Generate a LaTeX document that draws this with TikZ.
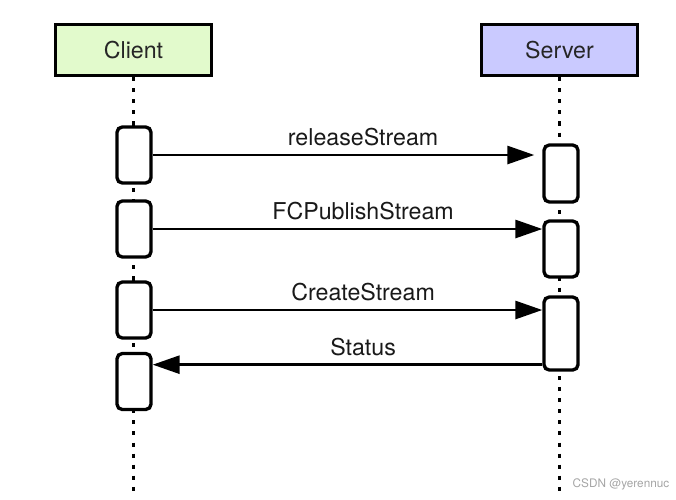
\documentclass[tikz,border=0pt]{standalone}
\usepackage{fontspec}
\setmainfont{TeX Gyre Heros}
\usetikzlibrary{arrows.meta,positioning,calc}
\definecolor{clientgreen}{RGB}{226,250,204}
\definecolor{serverblue}{RGB}{202,202,255}
\definecolor{markgray}{RGB}{165,165,165}

\begin{document}
\begin{tikzpicture}[
    actor/.style={draw, line width=1.9pt, minimum width=3.12cm, minimum height=1.02cm, inner sep=0pt, font=\fontsize{13.2}{15}\selectfont, text=black!85, text depth=0pt},
    lifeline/.style={line width=1.8pt, dash pattern=on 2.3pt off 4pt},
    act/.style={draw, fill=white, line width=1.9pt, rounded corners=3pt, minimum width=0.68cm, inner sep=0pt},
    msg/.style={line width=1.6pt, -{Triangle[length=0.54cm, width=0.36cm]}},
    lbl/.style={font=\fontsize{13.2}{15}\selectfont, text=black!90, above=1pt}
  ]
  \useasboundingbox (0,0) rectangle (13.52,-9.98);

  \node[actor, fill=clientgreen] (client) at (2.67, -1.0) {Client};
  \node[actor, fill=serverblue] (server) at (11.19, -1.0) {Server};

  \coordinate (cend) at (2.67, -9.9);
  \coordinate (send) at (11.19, -9.9);
  \draw[lifeline] (client.south) -- (cend);
  \draw[lifeline] (server.south) -- (send);

  \node[act, minimum height=1.12cm] (c1) at (2.68, -3.10) {};
  \node[act, minimum height=1.12cm] (c2) at (2.68, -4.58) {};
  \node[act, minimum height=1.12cm] (c3) at (2.68, -6.20) {};
  \node[act, minimum height=1.12cm] (c4) at (2.68, -7.63) {};

  \node[act, minimum height=1.14cm] (s1) at (11.22, -3.47) {};
  \node[act, minimum height=1.12cm] (s2) at (11.22, -4.98) {};
  \node[act, minimum height=1.46cm] (s3) at (11.22, -6.67) {};

  \draw[msg, shorten >=0.16cm] (c1.east) -- (c1.east -| s1.west) node[lbl, pos=0.54] {releaseStream};
  \draw[msg] (c2.east) -- (c2.east -| s2.west) node[lbl, pos=0.54] {FCPublishStream};
  \draw[msg] (c3.east) -- (c3.east -| s3.west) node[lbl, pos=0.54] {CreateStream};
  \draw[msg] ([yshift=0.14cm]s3.south west) -- ([yshift=0.14cm]s3.south west -| c4.east) node[lbl, pos=0.46] {Status};

  \node[font=\fontsize{6.7}{8}\selectfont, text=markgray] (mark) at (12.42, -9.68) {CSDN @yerennuc};
\end{tikzpicture}
\end{document}
